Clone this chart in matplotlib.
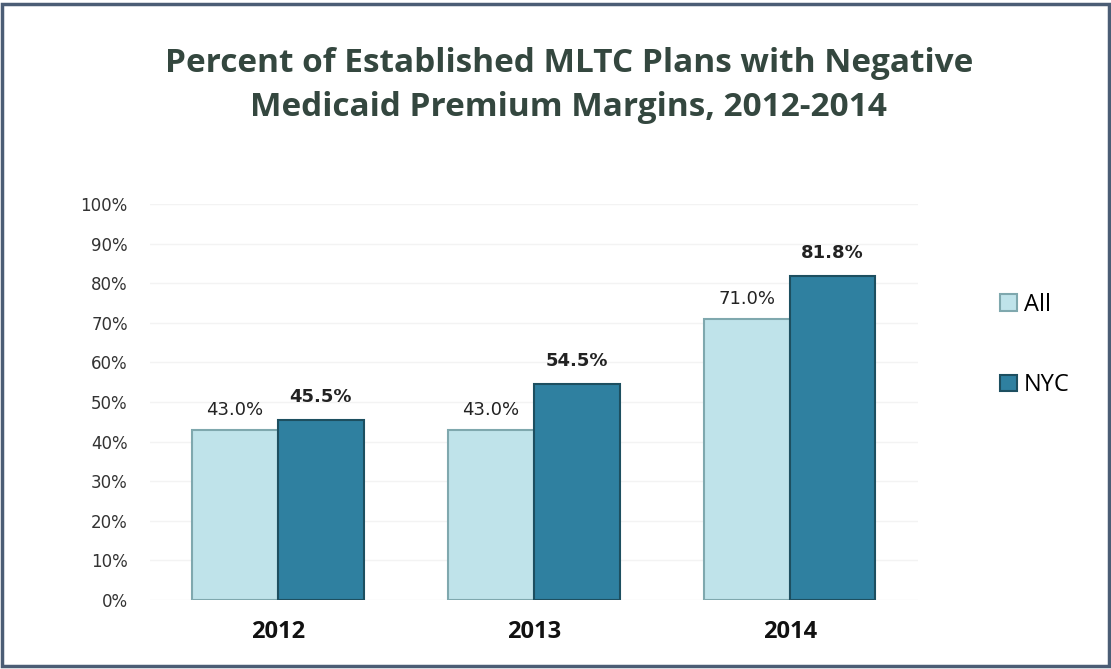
import numpy as np
import matplotlib
matplotlib.use("Agg")
import matplotlib.pyplot as plt
from matplotlib.patches import Rectangle

years = ["2012", "2013", "2014"]
all_pct = [43.0, 43.0, 71.0]
nyc_pct = [45.5, 54.5, 81.8]
yticks = [0, 10, 20, 30, 40, 50, 60, 70, 80, 90, 100]

c_all = "#bfe3ea"
c_nyc = "#2f80a0"
title_color = "#34473f"

fig = plt.figure(figsize=(11.11, 6.69), dpi=100)
ax = fig.add_axes([0.135, 0.103, 0.691, 0.592])

x = np.arange(len(years))
w = 0.335
ax.bar(x - w / 2, all_pct, w, color=c_all, edgecolor="#7fa8ae", linewidth=1.5, label="All")
ax.bar(x + w / 2, nyc_pct, w, color=c_nyc, edgecolor="#1d4f60", linewidth=1.5, label="NYC")

# data labels: All in regular weight, NYC in bold
for xi, v in zip(x, all_pct):
    ax.annotate(f"{v:.1f}%", (xi - w / 2, v), xytext=(0, 8), textcoords="offset points",
                ha="center", va="bottom", fontsize=13, color="#222222", family="DejaVu Sans")
for xi, v in zip(x, nyc_pct):
    ax.annotate(f"{v:.1f}%", (xi + w / 2, v), xytext=(0, 10), textcoords="offset points",
                ha="center", va="bottom", fontsize=13, fontweight="bold", color="#222222",
                family="DejaVu Sans")

ax.set_xlim(-0.5, 2.5)
ax.set_ylim(0, 100)
ax.set_yticks(yticks)
ax.set_yticklabels([f"{t}%" for t in yticks], fontsize=12, color="#333333")
ax.set_xticks(x)
ax.set_xticklabels(years, fontsize=17, fontweight="bold", family="Open Sans", color="#111111")
ax.tick_params(axis="both", length=0)
ax.tick_params(axis="x", pad=14)
ax.tick_params(axis="y", pad=16)
ax.yaxis.grid(True, color="#f3f3f3", linewidth=1)
ax.set_axisbelow(True)
for s in ax.spines.values():
    s.set_visible(False)

fig.text(0.512, 0.872, "Percent of Established MLTC Plans with Negative\nMedicaid Premium Margins, 2012-2014",
         ha="center", va="center", fontsize=24, fontweight="bold", family="Open Sans",
         color=title_color, linespacing=1.45)

ax.legend(loc="upper left", bbox_to_anchor=(1.08, 0.83), frameon=False,
          labelspacing=2.4, handlelength=0.7, handleheight=0.7, handletextpad=0.3,
          prop={"family": "Open Sans", "size": 17})

# frame around the chart
fig.patches.append(Rectangle((0.002, 0.004), 0.996, 0.99, transform=fig.transFigure,
                             fill=False, edgecolor="#4b5d75", linewidth=2.5))

fig.savefig("out.png", dpi=100)
